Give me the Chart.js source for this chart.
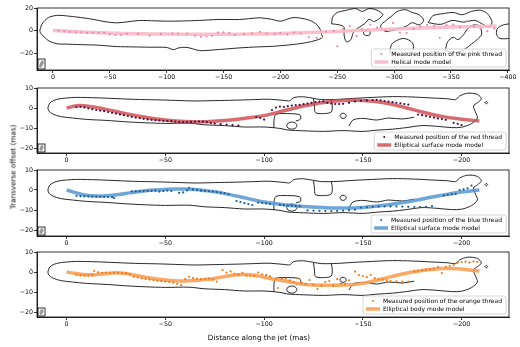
<!DOCTYPE html>
<html>
<head>
<meta charset="utf-8">
<script src="https://cdn.jsdelivr.net/npm/chart.js@4.4.1/dist/chart.umd.min.js"></script>
<style>
  body { margin: 0; width: 520px; height: 347px; background: #fff; position: relative; overflow: hidden; font-family: "DejaVu Sans", sans-serif; }
  .panel { position: absolute; left: 0; width: 520px; }
  #xTitle { position: absolute; left: 0; width: 518px; top: 333px; text-align: center; font-size: 7.2px; color: #000; }
  #yTitle { position: absolute; left: 13px; top: 167px; transform: translate(-50%, -50%) rotate(-90deg); white-space: nowrap; font-size: 7.2px; color: #000; }
</style>
</head>
<body>
<div class="panel" style="top:0"><canvas id="pinkChart" width="520" height="84"></canvas></div>
<div class="panel" style="top:80px"><canvas id="redChart" width="520" height="87"></canvas></div>
<div class="panel" style="top:162px"><canvas id="blueChart" width="520" height="88"></canvas></div>
<div class="panel" style="top:244px"><canvas id="orangeChart" width="520" height="87"></canvas></div>
<div id="yTitle">Transverse offset (mas)</div>
<div id="xTitle">Distance along the jet (mas)</div>

<script>
// ==========================
// DATA
// ==========================
const xTicksWide = [0, -50, -100, -150, -200, -250, -300, -350, -400];
const xTicksShort = [0, -50, -100, -150, -200];
const yTicksWide = [-20, 0, 20];
const yTicksShort = [-20, -10, 0, 10];

// pink thread (helical mode)
const pinkPoints = [[-5,0.0],[-10,-0.8],[-15,-1.2],[-20,-1.6],[-25,-1.5],[-30,-2.0],[-35,-1.8],[-40,-2.1],[-45,-1.9],[-50,-3.2],[-55,-4.0],[-60,-3.8],[-65,-2.8],[-75,-3.0],[-85,-4.5],[-95,-3.0],[-105,-2.8],[-110,-2.6],[-118,-2.8],[-125,-4.5],[-130,-5.6],[-135,-5.3],[-140,-4.6],[-145,-1.8],[-150,-1.6],[-155,-2.2],[-160,-3.8],[-168,-3.0],[-175,-2.5],[-182,-1.2],[-188,-2.8],[-195,-3.0],[-200,-2.3],[-206,-3.4],[-212,-1.5],[-218,-2.6],[-225,-5.8],[-232,-6.5],[-240,-1.0],[-247,-0.5],[-250,-14.0],[-255,1.5],[-261,3.8],[-267,-5.0],[-272,1.0],[-279,5.3],[-285,2.6],[-292,0.0],[-299,6.8],[-305,-1.8],[-311,-2.0],[-317,1.5],[-323,3.8],[-329,5.0],[-335,4.2],[-340,-6.5],[-346,4.8],[-352,5.3],[-358,3.0],[-364,8.3],[-370,3.6],[-376,1.5],[-382,-0.6],[-388,2.0]];
const pinkModel = [[0,0],[-25,-1.3],[-50,-2.2],[-75,-2.8],[-100,-3.1],[-125,-3.3],[-150,-3.3],[-175,-3.1],[-200,-2.6],[-225,-1.8],[-250,-0.8],[-275,0.3],[-300,1.4],[-325,2.3],[-350,3.1],[-375,3.7],[-390,4.0]];

// red thread (elliptical surface mode)
const redPoints = [[-5,0.5],[-7,0.6],[-9,0.3],[-11,-0.2],[-13,-0.6],[-15,-1.0],[-17,-1.3],[-19,-1.6],[-21,-2.0],[-23,-2.4],[-25,-2.8],[-27,-3.2],[-29,-3.6],[-31,-4.0],[-33,-4.4],[-35,-4.8],[-37,-5.1],[-39,-5.4],[-41,-5.7],[-43,-5.9],[-45,-6.1],[-47,-6.2],[-49,-6.4],[-51,-6.5],[-53,-6.6],[-55,-6.8],[-57,-7.0],[-59,-7.1],[-61,-7.0],[-63,-6.9],[-65,-6.8],[-67,-6.7],[-69,-6.8],[-71,-7.1],[-73,-7.5],[-75,-7.8],[-78,-8.1],[-81,-8.3],[-84,-8.6],[-87,-8.8],[-96,-4.5],[-98,-5.0],[-100,-5.8],[-104,-1.0],[-106,0.2],[-108,0.7],[-110,0.5],[-112,0.9],[-114,1.2],[-116,1.5],[-118,1.6],[-120,1.9],[-122,2.2],[-124,2.6],[-126,3.0],[-128,3.2],[-130,3.3],[-132,2.6],[-134,2.2],[-136,2.0],[-138,2.0],[-140,2.1],[-143,2.6],[-146,3.3],[-149,3.6],[-152,3.8],[-155,4.0],[-157,4.1],[-159,3.8],[-161,3.5],[-163,3.2],[-165,2.9],[-167,2.6],[-169,2.3],[-171,2.0],[-173,1.7],[-178,-3.3],[-180,-3.6],[-182,-4.0],[-184,-4.4],[-186,-4.8],[-188,-5.2],[-190,-5.5],[-192,-5.9],[-196,-7.4],[-198,-7.9],[-200,-8.5]];
const redModel = [[0,0],[-5,1.1],[-10,1.0],[-20,-0.7],[-30,-2.8],[-40,-4.6],[-50,-6.0],[-60,-6.8],[-70,-6.9],[-80,-6.3],[-90,-5.2],[-100,-3.8],[-110,-1.4],[-120,1.0],[-130,2.8],[-140,3.7],[-150,3.8],[-160,2.8],[-170,0.6],[-180,-2.0],[-190,-4.2],[-200,-5.6],[-209,-6.5]];

// blue thread (elliptical surface mode)
const bluePoints = [[-5,-3.0],[-7,-3.1],[-9,-3.2],[-11,-3.2],[-13,-3.3],[-15,-3.3],[-17,-3.4],[-19,-3.4],[-21,-3.5],[-23,-3.6],[-24,-4.0],[-33,-0.7],[-35,-0.7],[-37,-0.6],[-39,-0.5],[-41,-0.4],[-43,-0.4],[-45,-0.3],[-47,-0.8],[-49,-0.5],[-51,-0.3],[-53,-0.5],[-57,-1.4],[-59,-1.2],[-61,-0.2],[-62,1.0],[-64,0.3],[-66,0.0],[-68,-0.2],[-70,-0.4],[-72,-0.6],[-74,-0.8],[-76,-1.0],[-78,-1.3],[-80,-1.5],[-82,-2.0],[-86,-5.5],[-88,-6.0],[-90,-6.6],[-92,-7.0],[-94,-7.5],[-97,-6.3],[-99,-6.5],[-101,-6.7],[-103,-7.0],[-108,-7.4],[-110,-7.6],[-112,-7.8],[-114,-7.9],[-116,-8.0],[-118,-8.1],[-122,-10.2],[-125,-10.3],[-128,-10.4],[-131,-10.5],[-134,-10.5],[-137,-10.4],[-140,-10.3],[-143,-10.1],[-146,-9.8],[-149,-8.8],[-152,-8.6],[-155,-8.4],[-158,-8.3],[-161,-8.2],[-164,-8.2],[-167,-8.2],[-170,-8.3],[-173,-8.4],[-176,-8.5],[-179,-8.5],[-182,-8.4],[-185,-8.0],[-191,-2.8],[-193,-2.5],[-195,-2.2],[-197,-2.0],[-199,0.0],[-201,0.3],[-203,0.8],[-205,2.2]];
const blueModel = [[0,0],[-5,-1.5],[-10,-2.6],[-15,-3.0],[-20,-2.9],[-25,-2.4],[-30,-1.7],[-35,-1.0],[-40,-0.4],[-45,0.0],[-50,0.3],[-55,0.5],[-60,0.5],[-65,0.2],[-70,-0.3],[-75,-0.9],[-80,-1.8],[-85,-2.8],[-90,-3.9],[-95,-5.0],[-100,-6.0],[-110,-7.4],[-120,-8.3],[-130,-8.8],[-140,-9.0],[-150,-8.7],[-160,-7.8],[-170,-6.3],[-180,-4.5],[-190,-2.6],[-200,-1.0],[-209,0]];

// orange thread (elliptical body mode)
const orangePoints = [[-5,-1.5],[-7,-1.7],[-9,-1.8],[-11,-1.8],[-13,-1.6],[-14,0.5],[-16,-0.2],[-18,-0.4],[-20,-0.3],[-22,-0.4],[-24,-0.4],[-26,-0.5],[-28,-0.4],[-30,-0.6],[-32,-1.0],[-34,-2.4],[-36,-2.8],[-38,-3.2],[-40,-3.5],[-42,-3.8],[-44,-4.1],[-46,-4.4],[-48,-4.6],[-50,-4.8],[-52,-5.0],[-54,-5.4],[-56,-5.9],[-58,-6.6],[-60,-3.6],[-62,-2.4],[-64,-3.1],[-66,-3.4],[-68,-3.6],[-70,-3.5],[-72,-3.3],[-74,-3.9],[-76,-4.8],[-79,1.0],[-81,-0.3],[-83,0.3],[-85,-0.9],[-87,-1.3],[-89,-0.5],[-91,-1.8],[-93,-1.8],[-95,-1.9],[-97,-0.3],[-99,-1.2],[-101,-1.6],[-103,-2.2],[-106,-3.3],[-107,-8.0],[-109,-3.5],[-111,-3.3],[-113,-4.2],[-115,-5.0],[-117,-3.2],[-119,-5.6],[-121,-6.0],[-123,-4.0],[-125,-6.4],[-127,-8.5],[-129,-6.8],[-131,-5.0],[-133,-4.5],[-135,-6.8],[-137,-3.6],[-139,-5.8],[-141,-6.0],[-143,-4.2],[-146,0.2],[-148,-1.5],[-150,-2.0],[-152,-2.6],[-154,-1.5],[-156,-3.1],[-158,-3.5],[-160,-3.8],[-162,-4.2],[-164,-4.6],[-167,-4.7],[-170,-4.8],[-173,-4.8],[-176,0.3],[-178,0.6],[-180,0.9],[-182,1.1],[-184,1.3],[-186,1.8],[-188,2.5],[-190,-0.5],[-192,2.6],[-194,3.0],[-196,3.5],[-198,4.6],[-200,5.0],[-202,5.2],[-204,4.8],[-206,5.3],[-208,5.0]];
const orangeModel = [[0,0],[-5,-0.8],[-10,-1.4],[-15,-1.3],[-20,-0.8],[-25,-0.4],[-30,-0.8],[-35,-1.7],[-40,-2.6],[-45,-3.4],[-50,-4.0],[-55,-4.4],[-60,-4.5],[-65,-4.3],[-70,-3.8],[-75,-3.2],[-80,-2.3],[-85,-1.5],[-90,-1.2],[-95,-1.6],[-100,-2.6],[-105,-3.6],[-110,-4.4],[-115,-5.3],[-120,-6.1],[-125,-6.5],[-130,-6.6],[-135,-6.6],[-140,-6.5],[-145,-6.3],[-150,-5.7],[-155,-4.6],[-160,-3.4],[-165,-2.2],[-170,-1.0],[-175,0.0],[-180,0.8],[-185,1.3],[-190,1.7],[-195,1.8],[-200,1.5],[-205,0.9],[-209,0.5]];

// contours, wide view (top panel)
const wideOuter = [[11.5,0],[10,5],[7,9],[3,12],[-4,13.5],[-12,13],[-24,11.6],[-35,10],[-45,8],[-56,6.8],[-66,7.8],[-76,8.9],[-90,8.6],[-100,8.3],[-115,8.5],[-129,9],[-145,9.8],[-164,9.8],[-172,10.5],[-182,11.3],[-192,10],[-200,8.3],[-206,10],[-211,11.5],[-218,11],[-226,9],[-232,5.3],[-235,1],[-236,-3],[-237,-6],[-232,-8.5],[-223,-10.7],[-210,-12.5],[-193,-14],[-180,-14.5],[-164,-15.4],[-153,-16.3],[-140,-17.3],[-129,-17.8],[-118,-15],[-110,-15.5],[-106,-17],[-100,-15],[-85,-14.8],[-70,-14.5],[-56,-14.2],[-40,-13],[-25,-12.5],[-10,-12],[-4,-11.8],[3,-9.5],[8,-5.5],[11,-2],[11.5,0]];
const wideBlobA = [[-245,6],[-246,12],[-250,16],[-258,18],[-266,19.5],[-272,17],[-278,19.5],[-285,18],[-290,14],[-286,10],[-282,8],[-278,10],[-274,6],[-268,2],[-264,-2],[-262,-8],[-258,-10],[-256,-4],[-256,3],[-252,5],[-245,6]];
const wideLoop = [[-273,-2],[-274,0],[-276,0.6],[-278.5,0],[-279,-2],[-278.5,-3.8],[-276,-4.5],[-274,-3.8],[-273,-2]];
const wideBlobB = [[-292,-1],[-288,4],[-293,9],[-298,13],[-303,17],[-310,18.5],[-316,16],[-322,14],[-326,9],[-322,5],[-316,7],[-311,4],[-305,2],[-298,0],[-292,-1]];
const wideBlobC = [[-330,7],[-334,13],[-343,15],[-352,16],[-360,14],[-368,17],[-376,18],[-382,15],[-386,8],[-384,3],[-379,5],[-371,9],[-361,7.5],[-351,9],[-341,5.5],[-330,7]];
const wideLowA = [[-296,-19],[-298,-12],[-302,-9],[-308,-7],[-314,-9],[-317,-13],[-316,-18],[-310,-20.5],[-301,-21],[-296,-19]];
const wideLowB = [[-345,-18],[-347,-10],[-352,-6],[-356,-8],[-360,-5],[-365,2],[-370,5],[-375,4],[-377,-3],[-373,-8],[-368,-12],[-363,-16],[-355,-19.5],[-345,-18]];
const wideEdge = [[-402,6],[-396,5],[-391,2],[-390,-3],[-393,-7],[-402,-7]];

// contours, zoomed view (three lower panels)
const jetOuter = [[9.5,0],[8.5,2.5],[5,4.3],[0,5],[-5,5.3],[-15,5.1],[-25,4.7],[-35,4.3],[-45,4.1],[-55,3.8],[-65,3.5],[-75,3.7],[-85,3.9],[-95,4.2],[-102,4.4],[-110,3.8],[-113,3.6],[-115,5.2],[-120,5.6],[-125,4.8],[-129,4.2],[-137,4.3],[-145,4.8],[-155,5.3],[-165,5.7],[-175,5.5],[-185,5.0],[-193,4.6],[-197,4.2],[-199,6],[-203,7.4],[-208,6.8],[-210,4.6],[-208,2.6],[-206,1],[-207,-2],[-208,-5],[-205,-7.8],[-200,-9.6],[-195,-9.8],[-188,-9.2],[-180,-8.8],[-172,-9.8],[-165,-10.6],[-158,-11],[-150,-11.7],[-140,-11.3],[-130,-11.7],[-120,-11.4],[-112,-11],[-108,-10.2],[-100,-9.5],[-90,-9.5],[-80,-8.8],[-70,-8.4],[-62,-7.6],[-50,-7.7],[-40,-7.4],[-30,-6.9],[-20,-6.2],[-10,-5.7],[-3,-5],[3,-4.3],[7,-3],[9,-1.5],[9.5,0]];
const jetNotch = [[-125,4.6],[-125.5,1],[-126,-2.3],[-130,-2.8],[-134,-2],[-134.5,1.5],[-134,4.2]];
const jetBay = [[-105,-10],[-105,-6],[-106,-3.2],[-112,-2.8],[-118,-3.4],[-118.5,-5.5],[-116,-6.5]];
const jetInner = [[-143,-9],[-145,-6],[-150,-5.2],[-157,-6],[-163,-5],[-170,-5.5],[-176,-4.6]];
const jetHoleA = [[-138.4,-3.9],[-138.9,-3],[-140,-2.6],[-141.1,-3],[-141.6,-3.9],[-141.1,-4.8],[-140,-5.2],[-138.9,-4.8],[-138.4,-3.9]];
const jetHoleB = [[-111.4,-8.8],[-112.2,-7.5],[-114,-7],[-115.8,-7.5],[-116.6,-8.8],[-115.8,-10.1],[-114,-10.6],[-112.2,-10.1],[-111.4,-8.8]];
const jetSpeck = [[-211.8,2.7],[-212.5,3.3],[-213.2,2.7],[-212.5,2.1],[-211.8,2.7]];

const wideContours = [wideOuter, wideBlobA, wideLoop, wideBlobB, wideBlobC, wideLowA, wideLowB, wideEdge];
const jetContours = [jetOuter, jetNotch, jetBay, jetInner, jetHoleA, jetHoleB, jetSpeck];

// ==========================
// HELPERS
// ==========================
Chart.defaults.font.family = "'DejaVu Sans', sans-serif";
Chart.defaults.color = "#000";

const toXY = (pairs) => pairs.map(([x, y]) => ({ x, y }));
const minusSign = (v) => String(v).replace("-", "\u2212");

// frame, beam icon and legend drawn inside the axes
const axesDecor = {
  id: "axesDecor",
  afterDraw(chart) {
    const { ctx, chartArea: a } = chart;
    const pts = chart.data.datasets[0];
    const mdl = chart.data.datasets[1];
    ctx.save();

    // box round the axes
    ctx.strokeStyle = "#000";
    ctx.lineWidth = 0.8;
    ctx.strokeRect(a.left, a.top, a.width, a.height);

    // beam icon in the lower left corner
    const bw = 7, bh = chart.options.beamHeight || 8;
    const bx = a.left + 1, by = a.bottom - bh - 1;
    ctx.fillStyle = "#fff";
    ctx.fillRect(bx, by, bw, bh);
    ctx.fillStyle = "#9a9a9a";
    ctx.beginPath();
    ctx.ellipse(bx + bw / 2, by + bh / 2, 1.8, bh / 2 - 1, 0.35, 0, Math.PI * 2);
    ctx.fill();
    ctx.strokeStyle = "#000";
    ctx.lineWidth = 0.8;
    ctx.strokeRect(bx, by, bw, bh);

    // legend
    ctx.font = "6px 'DejaVu Sans'";
    const tw = Math.max(ctx.measureText(pts.label).width, ctx.measureText(mdl.label).width);
    const w = tw + 24, h = 18;
    const x = a.right - 3 - w, y = a.bottom - 3 - h;
    ctx.fillStyle = "rgba(255,255,255,0.8)";
    ctx.strokeStyle = "#cccccc";
    ctx.lineWidth = 0.8;
    ctx.beginPath();
    ctx.roundRect(x, y, w, h, 2);
    ctx.fill();
    ctx.stroke();

    const r1 = y + 5, r2 = y + 13;
    ctx.fillStyle = pts.pointBackgroundColor;
    ctx.beginPath();
    ctx.arc(x + 10, r1, 1, 0, Math.PI * 2);
    ctx.fill();
    ctx.strokeStyle = mdl.borderColor;
    ctx.lineWidth = mdl.borderWidth;
    ctx.beginPath();
    ctx.moveTo(x + 3, r2);
    ctx.lineTo(x + 17, r2);
    ctx.stroke();

    ctx.fillStyle = "#000";
    ctx.textBaseline = "middle";
    ctx.fillText(pts.label, x + 20, r1);
    ctx.fillText(mdl.label, x + 20, r2);
    ctx.restore();
  },
};

function makePanel(id, cfg) {
  const contourSets = cfg.contours.map((c) => ({
    data: toXY(c),
    showLine: true,
    borderColor: "#111",
    borderWidth: 0.9,
    pointRadius: 0,
    tension: 0.3,
    order: 2,
  }));

  return new Chart(document.getElementById(id), {
    type: "scatter",
    data: {
      datasets: [
        {
          label: cfg.pointLabel,
          data: toXY(cfg.points),
          pointRadius: 1.1,
          pointBackgroundColor: cfg.pointColor,
          pointBorderWidth: 0,
          order: 0,
        },
        {
          label: cfg.modelLabel,
          data: toXY(cfg.model),
          showLine: true,
          borderColor: cfg.lineColor,
          borderWidth: 3.5,
          pointRadius: 0,
          tension: 0.4,
          order: 1,
        },
        ...contourSets,
      ],
    },
    options: {
      responsive: false,
      animation: false,
      devicePixelRatio: 1,
      events: [],
      beamHeight: cfg.beamHeight,
      layout: { padding: { top: 8, right: 11, left: 0, bottom: 0 } },
      plugins: { legend: { display: false }, tooltip: { enabled: false } },
      scales: {
        x: {
          type: "linear",
          min: cfg.xMin,
          max: cfg.xMax,
          reverse: true,
          afterBuildTicks: (s) => { s.ticks = cfg.xTicks.map((v) => ({ value: v })); },
          afterFit: (s) => { s.height = 14; },
          ticks: { font: { size: 6.3 }, padding: 0.5, maxRotation: 0, callback: minusSign },
          grid: { drawOnChartArea: false, tickLength: 3, color: "#000", tickWidth: 0.8 },
          border: { color: "#000", width: 0.8 },
        },
        y: {
          type: "linear",
          min: cfg.yMin,
          max: cfg.yMax,
          afterBuildTicks: (s) => { s.ticks = cfg.yTicks.map((v) => ({ value: v })); },
          afterFit: (s) => { s.width = 37; },
          ticks: { font: { size: 6.3 }, padding: 1, callback: minusSign },
          grid: { drawOnChartArea: false, tickLength: 3, color: "#000", tickWidth: 0.8 },
          border: { color: "#000", width: 0.8 },
        },
      },
    },
    plugins: [axesDecor],
  });
}

// ==========================
// PANELS
// ==========================
makePanel("pinkChart", {
  points: pinkPoints, model: pinkModel, contours: wideContours,
  pointLabel: "Measured position of the pink thread", modelLabel: "Helical mode model",
  pointColor: "#ea86ad", lineColor: "rgba(250,185,200,0.9)",
  xMin: -401, xMax: 14, yMin: -35, yMax: 20,
  xTicks: xTicksWide, yTicks: yTicksWide, beamHeight: 10,
});

makePanel("redChart", {
  points: redPoints, model: redModel, contours: jetContours,
  pointLabel: "Measured position of the red thread", modelLabel: "Elliptical surface mode model",
  pointColor: "#4a0d3f", lineColor: "rgba(205,70,75,0.8)",
  xMin: -224, xMax: 15, yMin: -22.5, yMax: 10,
  xTicks: xTicksShort, yTicks: yTicksShort, beamHeight: 8,
});

makePanel("blueChart", {
  points: bluePoints, model: blueModel, contours: jetContours,
  pointLabel: "Measured position of the blue thread", modelLabel: "Elliptical surface mode model",
  pointColor: "#1c5a8c", lineColor: "rgba(85,150,210,0.85)",
  xMin: -224, xMax: 15, yMin: -23, yMax: 10,
  xTicks: xTicksShort, yTicks: yTicksShort, beamHeight: 8,
});

makePanel("orangeChart", {
  points: orangePoints, model: orangeModel, contours: jetContours,
  pointLabel: "Measured position of the orange thread", modelLabel: "Elliptical body mode model",
  pointColor: "#f07a14", lineColor: "rgba(247,160,85,0.9)",
  xMin: -224, xMax: 15, yMin: -22.5, yMax: 10,
  xTicks: xTicksShort, yTicks: yTicksShort, beamHeight: 8,
});
</script>
</body>
</html>
